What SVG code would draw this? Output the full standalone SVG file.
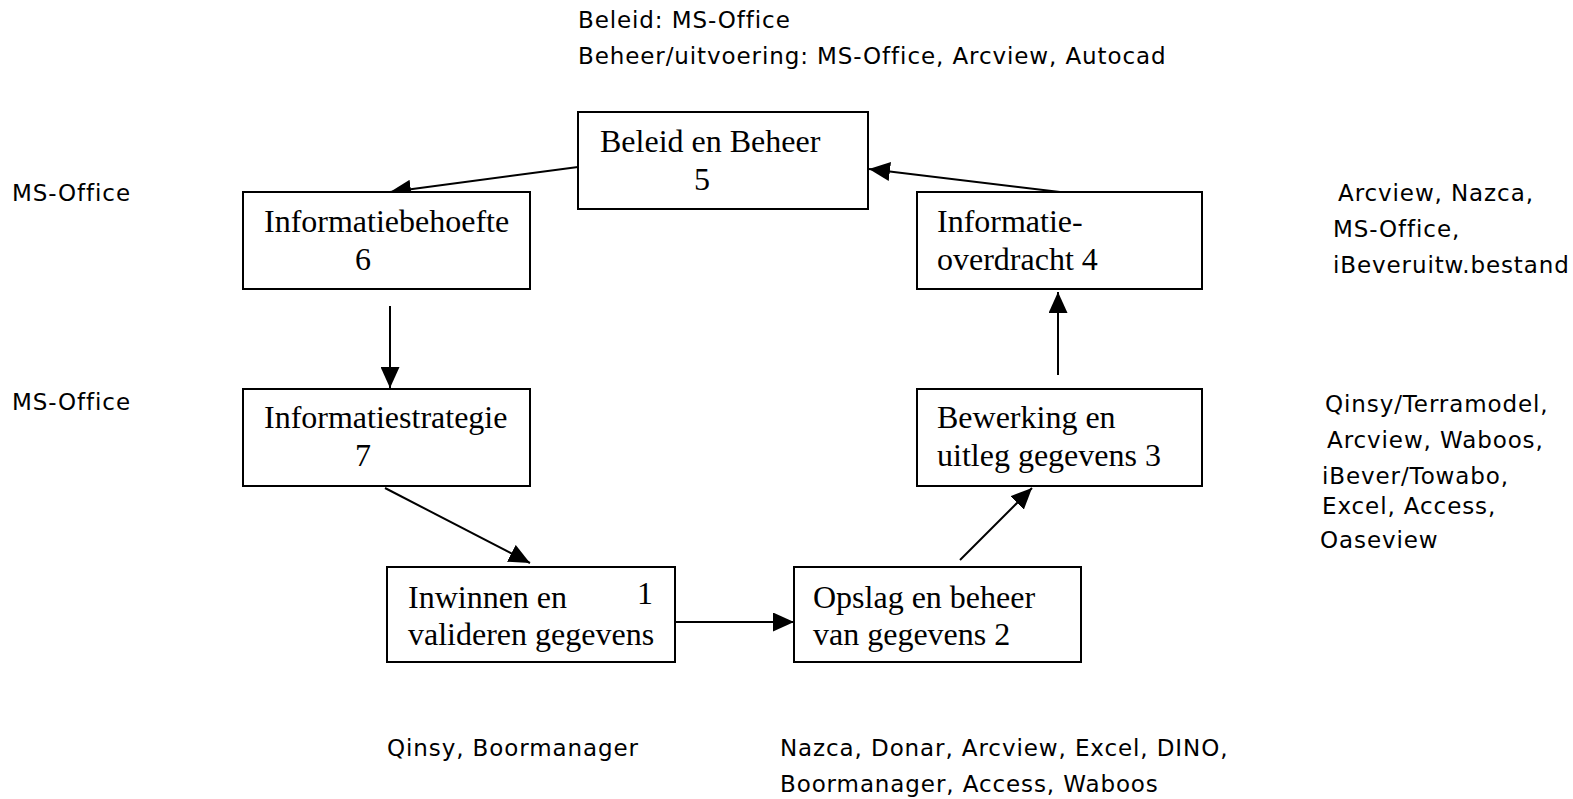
<svg xmlns="http://www.w3.org/2000/svg" width="1573" height="799" viewBox="0 0 1573 799">
<defs>
<style>
.box{fill:#fff;stroke:#000;stroke-width:2}
.t{font-family:"Liberation Serif","Times New Roman",serif;font-size:32px;fill:#000}
.s{font-family:"DejaVu Sans","Open Sans",sans-serif;font-size:23px;letter-spacing:0.9px;fill:#000}
.c{stroke:#000;stroke-width:2;fill:none;marker-end:url(#ah)}
</style>
<marker id="ah" viewBox="0 0 21 19" refX="21" refY="9.5" markerWidth="21" markerHeight="19" markerUnits="userSpaceOnUse" orient="auto">
<path d="M0,0 L21,9.5 L0,19 Z" fill="#000"/>
</marker>
</defs>
<rect width="1573" height="799" fill="#fff"/>
<g id="connectors">
<line class="c" x1="578" y1="167" x2="390" y2="192"/>
<line class="c" x1="1060" y1="192" x2="869" y2="169"/>
<line class="c" x1="390" y1="306" x2="390" y2="388"/>
<line class="c" x1="385" y1="488" x2="530" y2="563"/>
<line class="c" x1="675" y1="622" x2="794" y2="622"/>
<line class="c" x1="960" y1="560" x2="1032" y2="488"/>
<line class="c" x1="1058" y1="375" x2="1058" y2="292"/>
</g>
<g id="n5"><rect class="box" x="578" y="112" width="290" height="97"/><text class="t" x="600" y="152">Beleid en Beheer</text><text class="t" x="694" y="190">5</text></g>
<g id="n6"><rect class="box" x="243" y="192" width="287" height="97"/><text class="t" x="264" y="232">Informatiebehoefte</text><text class="t" x="355" y="270">6</text></g>
<g id="n7"><rect class="box" x="243" y="389" width="287" height="97"/><text class="t" x="264" y="428">Informatiestrategie</text><text class="t" x="355" y="466">7</text></g>
<g id="n1"><rect class="box" x="387" y="567" width="288" height="95"/><text class="t" x="408" y="608">Inwinnen en</text><text class="t" x="637" y="604">1</text><text class="t" x="408" y="645">valideren gegevens</text></g>
<g id="n2"><rect class="box" x="794" y="567" width="287" height="95"/><text class="t" x="813" y="608">Opslag en beheer</text><text class="t" x="813" y="645">van gegevens 2</text></g>
<g id="n3"><rect class="box" x="917" y="389" width="285" height="97"/><text class="t" x="937" y="428">Bewerking en</text><text class="t" x="937" y="466">uitleg gegevens 3</text></g>
<g id="n4"><rect class="box" x="917" y="192" width="285" height="97"/><text class="t" x="937" y="232">Informatie-</text><text class="t" x="937" y="270">overdracht 4</text></g>
<g id="labels">
<text class="s" x="578" y="28">Beleid: MS-Office</text>
<text class="s" x="578" y="64">Beheer/uitvoering: MS-Office, Arcview, Autocad</text>
<text class="s" x="12" y="201">MS-Office</text>
<text class="s" x="12" y="410">MS-Office</text>
<text class="s" x="1338" y="201">Arcview, Nazca,</text>
<text class="s" x="1333" y="237">MS-Office,</text>
<text class="s" x="1333" y="273">iBeveruitw.bestand</text>
<text class="s" x="1325" y="412">Qinsy/Terramodel,</text>
<text class="s" x="1327" y="448">Arcview, Waboos,</text>
<text class="s" x="1322" y="484">iBever/Towabo,</text>
<text class="s" x="1322" y="514">Excel, Access,</text>
<text class="s" x="1320" y="548">Oaseview</text>
<text class="s" x="387" y="756">Qinsy, Boormanager</text>
<text class="s" x="780" y="756">Nazca, Donar, Arcview, Excel, DINO,</text>
<text class="s" x="780" y="792">Boormanager, Access, Waboos</text>
</g>
</svg>
